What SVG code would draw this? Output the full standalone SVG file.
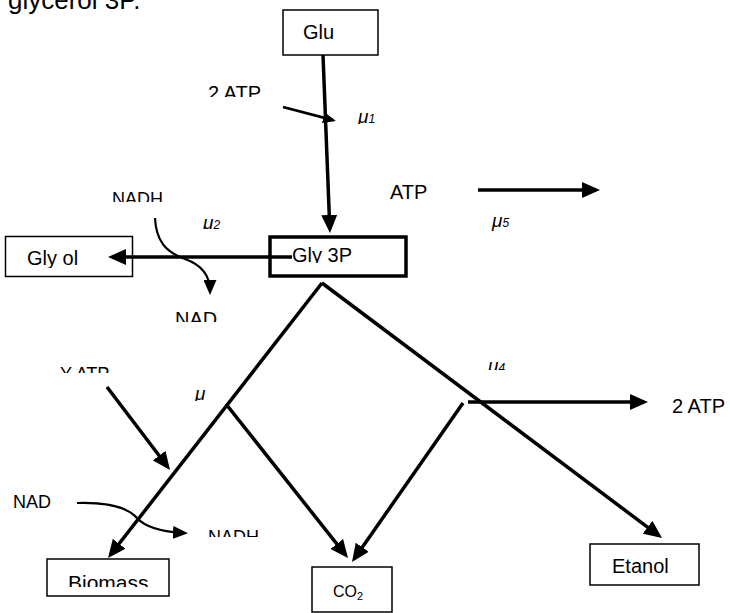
<svg xmlns="http://www.w3.org/2000/svg" width="730" height="613" viewBox="0 0 730 613">
<style>
text{font-family:"Liberation Sans",Arial,sans-serif;fill:#000}
.t20{font-size:20px}
.t18{font-size:18px}
.mu{font-size:19px;font-style:italic}
.sub{font-size:12px}
.box{fill:#fff;stroke:#000;stroke-width:1.5}
.thick{fill:none;stroke:#000;stroke-width:3.5}
.ln{fill:none;stroke:#000;stroke-width:3.5}
.ln2{fill:none;stroke:#000;stroke-width:2.2}
</style>
<defs>
<marker id="ah" markerUnits="userSpaceOnUse" markerWidth="18" markerHeight="16" refX="14" refY="8" orient="auto"><path d="M0,0 L18,8 L0,16 z" fill="#000"/></marker>
<marker id="am" markerUnits="userSpaceOnUse" markerWidth="15" markerHeight="13" refX="11" refY="6.5" orient="auto"><path d="M0,0 L15,6.5 L0,13 z" fill="#000"/></marker>
<marker id="as" markerUnits="userSpaceOnUse" markerWidth="13" markerHeight="11" refX="10" refY="5.5" orient="auto"><path d="M0,0 L13,5.5 L0,11 z" fill="#000"/></marker>
<clipPath id="c2atp"><rect x="0" y="0" width="730" height="97"/></clipPath>
<clipPath id="cmu1"><rect x="0" y="0" width="730" height="124"/></clipPath>
<clipPath id="cnadh1"><rect x="0" y="0" width="730" height="202"/></clipPath>
<clipPath id="cmu2"><rect x="0" y="0" width="730" height="229"/></clipPath>
<clipPath id="cglyv"><rect x="0" y="0" width="730" height="263"/></clipPath>
<clipPath id="cglyol"><rect x="0" y="0" width="730" height="268"/></clipPath>
<clipPath id="cnad1"><rect x="0" y="0" width="730" height="322"/></clipPath>
<clipPath id="cyatp"><rect x="0" y="0" width="730" height="373"/></clipPath>
<clipPath id="cmu4"><rect x="0" y="0" width="730" height="370"/></clipPath>
<clipPath id="cmu3"><rect x="0" y="0" width="730" height="401"/></clipPath>
<clipPath id="cnadh2"><rect x="0" y="0" width="730" height="537"/></clipPath>
<clipPath id="cbio"><rect x="0" y="0" width="730" height="587"/></clipPath>
</defs>
<rect width="730" height="613" fill="#fff"/>
<text x="8" y="9" style="font-size:26px">glycerol 3P.</text>

<g id="glu">
<rect class="box" x="283" y="10" width="95" height="45"/>
<text class="t20" x="303" y="39">Glu</text>
</g>
<g id="gly3p">
<rect class="thick" x="270" y="237" width="136" height="39"/>
<text class="t20" x="292" y="262" clip-path="url(#cglyv)">Gly 3P</text>
</g>
<g id="glycerol">
<rect class="box" x="5.5" y="236.5" width="127" height="40"/>
<text class="t20" x="27" y="265" clip-path="url(#cglyol)">Gly ol</text>
</g>
<g id="biomass">
<rect class="box" x="47" y="559" width="122" height="37"/>
<text x="68" y="590" style="font-size:21px" clip-path="url(#cbio)">Biomass</text>
</g>
<g id="co2">
<rect class="box" x="312" y="567" width="80" height="45"/>
<text x="333" y="597" style="font-size:16px">CO<tspan style="font-size:11px" dy="3">2</tspan></text>
</g>
<g id="etanol">
<rect class="box" x="590" y="544" width="109" height="41"/>
<text class="t20" x="612" y="573">Etanol</text>
</g>

<g id="connectors">
<line class="ln" x1="323" y1="55" x2="329.8" y2="229" marker-end="url(#ah)"/>
<line class="ln" x1="283" y1="107" x2="333" y2="120.2" marker-end="url(#as)" style="stroke-width:2.8"/>
<line class="ln" x1="292" y1="257" x2="112" y2="257" marker-end="url(#ah)"/>
<path class="ln2" d="M155,218 C156,240 165,252 185,259 C202,265 210,275 210,291" marker-end="url(#am)"/>
<line class="ln" x1="478" y1="190" x2="596" y2="190" marker-end="url(#ah)"/>
<line class="ln" x1="322" y1="283" x2="110.5" y2="554.8" marker-end="url(#ah)"/>
<line class="ln" x1="226" y1="404" x2="345.5" y2="554.9" marker-end="url(#ah)"/>
<line class="ln" x1="322" y1="283" x2="658.8" y2="535.6" marker-end="url(#ah)"/>
<line class="ln" x1="468" y1="402" x2="644" y2="402" marker-end="url(#ah)"/>
<line class="ln" x1="463" y1="403" x2="354.3" y2="558.7" marker-end="url(#ah)"/>
<line class="ln" x1="107" y1="387" x2="167.6" y2="466.8" marker-end="url(#ah)"/>
<path class="ln2" d="M77,503 C110,502 128,508 137,518 C146,528 165,532 184,533" marker-end="url(#am)"/>
</g>

<g id="labels">
<text class="t20" x="208" y="100" clip-path="url(#c2atp)">2 ATP</text>
<text class="mu" x="358" y="123" clip-path="url(#cmu1)">μ<tspan class="sub">1</tspan></text>
<text class="t18" x="112" y="205" clip-path="url(#cnadh1)">NADH</text>
<text class="mu" x="203" y="229" clip-path="url(#cmu2)">μ<tspan class="sub">2</tspan></text>
<text class="t20" x="175" y="326" clip-path="url(#cnad1)">NAD</text>
<text class="t20" x="390" y="199">ATP</text>
<text class="mu" x="492" y="227">μ<tspan class="sub">5</tspan></text>
<text class="t18" x="60" y="380" clip-path="url(#cyatp)">Y ATP</text>
<text class="mu" x="195" y="400" clip-path="url(#cmu3)">μ</text>
<text class="mu" x="488" y="372" clip-path="url(#cmu4)">μ<tspan class="sub">4</tspan></text>
<text class="t20" x="672" y="413">2 ATP</text>
<text class="t18" x="13" y="508">NAD</text>
<text class="t18" x="208" y="543" clip-path="url(#cnadh2)">NADH</text>
</g>
</svg>
